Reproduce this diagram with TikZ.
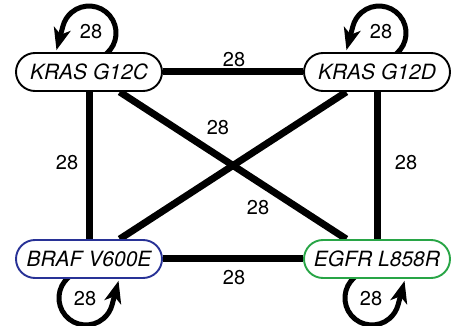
\documentclass[tikz,border=0pt]{standalone}
\usepackage{fontspec}
\setmainfont{TeX Gyre Heros}
\usetikzlibrary{arrows.meta,backgrounds}
\definecolor{brafblue}{RGB}{40,50,150}
\definecolor{egfrgreen}{RGB}{40,165,70}
\begin{document}
\begin{tikzpicture}[x=1pt,y=-1pt,
  gene/.style={draw=black, line width=1.9pt, fill=white, rounded corners=19pt,
    minimum width=146pt, minimum height=38pt, inner sep=0pt,
    font=\fontsize{21}{21}\selectfont\itshape},
  link/.style={line width=7pt},
  selfloop/.style={line width=5pt, -{Stealth[length=22pt,width=17pt,inset=6pt]}},
  num/.style={font=\fontsize{20}{20}\selectfont, inner sep=0pt}]
\useasboundingbox (0,0) rectangle (459,326);
\clip (0,0) rectangle (459,326);
\node[gene] (c) at (89,72) {KRAS G12C};
\node[gene] (d) at (377,72) {KRAS G12D};
\node[gene, draw=brafblue] (b) at (89,259) {BRAF V600E};
\node[gene, draw=egfrgreen] (e) at (377,259) {EGFR L858R};
\begin{scope}[on background layer]
\draw[link] (c) -- node[num, pos=0.5, shift={(1,-12)}] {28} (d);
\draw[link] (b) -- node[num, pos=0.5, shift={(1,19)}] {28} (e);
\draw[link] (c) -- node[num, pos=0.5, shift={(-22,-3)}] {28} (b);
\draw[link] (d) -- node[num, pos=0.5, shift={(29,-3)}] {28} (e);
\draw[link] (d) -- node[num, pos=0.5, shift={(-15,-38)}] {28} (b);
\draw[link] (c) -- node[num, pos=0.5, shift={(25,42)}] {28} (e);
\draw[selfloop] ([shift={(17.4,-18.3)}]c.center) arc[start angle=50, end angle=-165, radius=27] -- ++(-6.5,24.1);
\draw[selfloop] ([shift={(19.4,-18.3)}]d.center) arc[start angle=50, end angle=-165, radius=27] -- ++(-6.5,24.1);
\draw[selfloop] ([shift={(-20.4,18.3)}]b.center) arc[start angle=230, end angle=15, radius=27] -- ++(6.5,-24.1);
\draw[selfloop] ([shift={(-22.4,18.3)}]e.center) arc[start angle=230, end angle=15, radius=27] -- ++(6.5,-24.1);
\end{scope}
\node[num] (lc) at (91,32) {28};
\node[num] (ld) at (381,32) {28};
\node[num] (lb) at (85,299) {28};
\node[num] (le) at (371,299) {28};
\end{tikzpicture}
\end{document}
